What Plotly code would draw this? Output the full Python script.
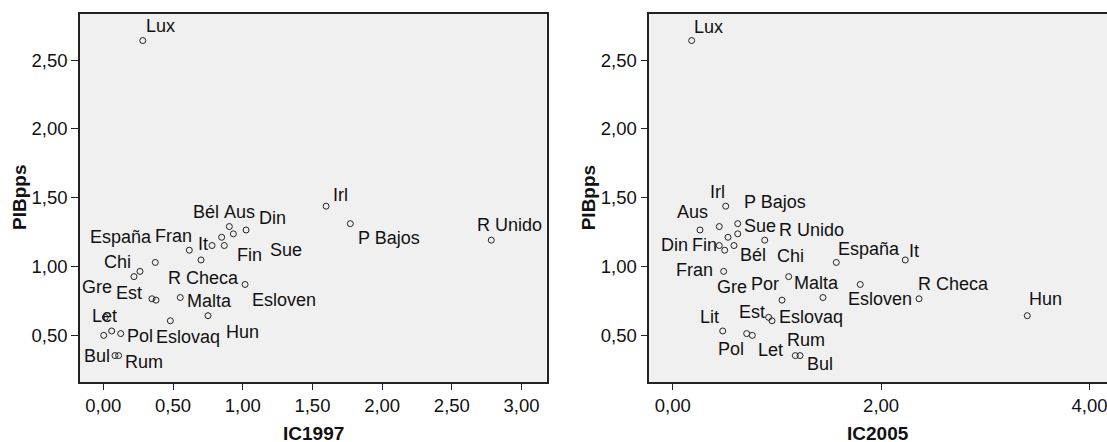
import plotly.graph_objects as go

# ---- data ----
countries = ["Lux", "Irl", "P Bajos", "Aus", "Din", "Sue", "Bél", "R Unido", "Fin", "Ale",
             "Fran", "It", "España", "Gre", "Chi", "Esloven", "Malta", "R Checa", "Por",
             "Hun", "Est", "Eslovaq", "Lit", "Pol", "Let", "Bul", "Rum"]
ic1997 = [0.283, 1.598, 1.772, 1.024, 0.904, 0.933, 0.849, 2.783, 0.868, 0.780,
          0.617, 0.701, 0.373, 0.263, 0.220, 1.017, 0.552, 0.349, 0.378,
          0.751, 0.014, 0.481, 0.060, 0.125, 0.003, 0.084, 0.110]
ic2005 = [0.182, 0.509, 0.624, 0.262, 0.447, 0.624, 0.531, 0.883, 0.447, 0.588,
          0.499, 2.232, 1.570, 0.489, 1.113, 1.800, 1.442, 2.364, 1.049,
          3.403, 0.921, 0.953, 0.480, 0.710, 0.764, 1.222, 1.177]
pibpps = [2.642, 1.438, 1.311, 1.265, 1.290, 1.237, 1.212, 1.191, 1.152, 1.152,
          1.118, 1.047, 1.029, 0.964, 0.926, 0.869, 0.774, 0.765, 0.755,
          0.642, 0.630, 0.605, 0.531, 0.512, 0.499, 0.352, 0.352]

x1_ticks = [0.0, 0.5, 1.0, 1.5, 2.0, 2.5, 3.0]
x2_ticks = [0.0, 2.0, 4.0]
y_ticks = [0.5, 1.0, 1.5, 2.0, 2.5]

# label placement offsets (pixels, dx right, dy down) per chart; absent = no label shown
off1997 = {"Lux": (18, -14), "Irl": (14, -10), "P Bajos": (39, 15), "Aus": (-7, -17),
           "Din": (43, -8), "Sue": (53, 17), "Bél": (-16, -24), "R Unido": (18, -14),
           "Fin": (25, 10), "Fran": (-16, -13), "It": (2, -15), "España": (-34, -24),
           "Gre": (-43, 17), "Chi": (-16, -14), "Esloven": (39, 17), "Malta": (29, 4),
           "R Checa": (52, -20), "Hun": (34, 17), "Est": (24, -23), "Eslovaq": (18, 17),
           "Pol": (19, 3), "Let": (1, -18), "Bul": (-18, 1), "Rum": (25, 7)}
off2005 = {"Lux": (17, -13), "Irl": (-8, -13), "P Bajos": (37, -21), "Aus": (-8, -17),
           "Din": (-45, 19), "Sue": (22, -7), "Bél": (25, 19), "R Unido": (47, -9),
           "Fin": (-15, 0), "Fran": (-30, 21), "It": (9, -8), "España": (33, -12),
           "Gre": (8, 17), "Chi": (2, -20), "Esloven": (20, 16), "Malta": (-6, -14),
           "R Checa": (34, -14), "Por": (-17, -15), "Hun": (18, -16), "Est": (-17, -4),
           "Eslovaq": (39, -3), "Lit": (-13, -13), "Pol": (-16, 16), "Let": (18, 16),
           "Bul": (20, 9), "Rum": (11, -15)}

W, H = 1107, 442
FONT = "Liberation Sans, Arial, sans-serif"
TXT = "#111111"
LINE = "#222222"

fig = go.Figure()
marker = dict(symbol="circle-open", size=6, color="#222222", line=dict(width=1, color="#222222"))
fig.add_trace(go.Scatter(x=ic1997, y=pibpps, mode="markers", marker=marker,
                         xaxis="x", yaxis="y", showlegend=False, hoverinfo="skip"))
fig.add_trace(go.Scatter(x=ic2005, y=pibpps, mode="markers", marker=marker,
                         xaxis="x2", yaxis="y2", showlegend=False, hoverinfo="skip"))

annotations = []
for xs, offs, xr, yr in [(ic1997, off1997, "x", "y"), (ic2005, off2005, "x2", "y2")]:
    for name, xv, yv in zip(countries, xs, pibpps):
        if name in offs:
            dx, dy = offs[name]
            annotations.append(dict(x=xv, y=yv, xref=xr, yref=yr, text=name, showarrow=False,
                                    xanchor="center", yanchor="middle", xshift=dx, yshift=-dy + 1,
                                    font=dict(family=FONT, size=18, color=TXT)))

# axis titles
for xr, yr, tx in [("x", "y", "IC1997"), ("x2", "y2", "IC2005")]:
    annotations.append(dict(x=0.5, xref=xr + " domain", y=0, yref="paper", yshift=-51,
                            text="<b>%s</b>" % tx, showarrow=False, xanchor="center",
                            yanchor="middle", font=dict(family=FONT, size=19, color=TXT)))
    annotations.append(dict(x=0, xref=xr + " domain", xshift=-61, y=0.5, yref=yr + " domain",
                            text="<b>PIBpps</b>", showarrow=False, textangle=-90,
                            xanchor="center", yanchor="middle",
                            font=dict(family=FONT, size=19, color=TXT)))

tickfont = dict(family=FONT, size=18.5, color=TXT)
common_x = dict(showgrid=False, zeroline=False, showline=True, linecolor=LINE, linewidth=1.5,
                ticks="outside", ticklen=6, tickcolor=LINE, tickwidth=1, tickformat=".2f",
                tickfont=tickfont, tickmode="array", ticklabeloverflow="allow")
common_y = dict(showgrid=False, zeroline=False, showline=True, linecolor=LINE, linewidth=1.5,
                ticks="outside", ticklen=7, tickcolor=LINE, tickwidth=1, tickformat=".2f",
                tickfont=tickfont, tickmode="array", tickvals=y_ticks, range=[0.160, 2.835])

fig.update_layout(
    width=W, height=H,
    margin=dict(l=0, r=0, t=14, b=60.3),
    paper_bgcolor="white", plot_bgcolor="#f0f0f0",
    separators=",.",
    font=dict(family=FONT, color=TXT),
    xaxis=dict(common_x, domain=[80 / W, 546.5 / W], range=[-0.1671, 3.179], tickvals=x1_ticks,
               anchor="y", mirror=True),
    yaxis=dict(common_y, domain=[0, 1], anchor="x", mirror=True),
    xaxis2=dict(common_x, domain=[649.3 / W, 1.0], range=[-0.2246, 4.168], tickvals=x2_ticks,
                anchor="y2", mirror=True),
    yaxis2=dict(common_y, domain=[0, 1], anchor="x2", mirror=False),
    annotations=annotations,
)

fig.write_html("out.html", config={"displayModeBar": False},
               post_script="document.body.style.margin='0';document.body.style.overflow='hidden';")
